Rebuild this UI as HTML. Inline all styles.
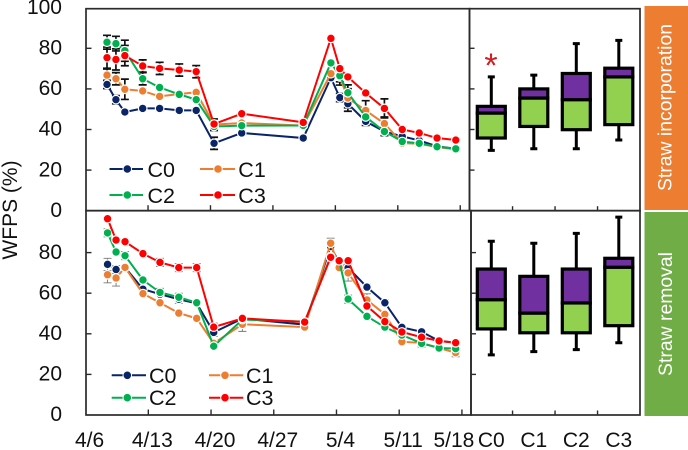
<!DOCTYPE html>
<html>
<head>
<meta charset="utf-8">
<title>WFPS chart</title>
<style>
html,body{margin:0;padding:0;background:#fff;width:688px;height:450px;overflow:hidden}
svg{display:block;filter:blur(0.3px)}
text{font-family:"Liberation Sans",sans-serif;fill:#111}
</style>
</head>
<body>
<svg id="chart" xmlns="http://www.w3.org/2000/svg" width="688" height="450" viewBox="0 0 688 450">
  <rect x="644.5" y="6" width="43.5" height="204" fill="#ed7d31"/>
  <rect x="644.5" y="212" width="43.5" height="204" fill="#70ad47"/>
  <text transform="translate(671.5,107.5) rotate(-90)" text-anchor="middle" font-size="19.4" style="fill:#fff">Straw incorporation</text>
  <text transform="translate(672,314) rotate(-90)" text-anchor="middle" font-size="19.4" style="fill:#fff">Straw removal</text>
  <text transform="translate(17,210) rotate(-90)" text-anchor="middle" font-size="21">WFPS (%)</text>
  <text x="491" y="77" text-anchor="middle" font-size="34" style="fill:#cc1f24">*</text>
  <g id="layer"></g>
  <g fill="none" stroke="#2b2b2b" stroke-width="1.7">
    <rect x="86" y="8.7" width="383.5" height="202"/>
    <rect x="469.5" y="8.7" width="170.5" height="202"/>
    <rect x="86" y="210.7" width="385" height="204.3"/>
    <rect x="471" y="210.7" width="169" height="204.3"/>
  </g>
</svg>
<script>
var seriesNames = ["C0", "C1", "C2", "C3"];
var seriesColors = ["#0a2468", "#ed7d31", "#00b050", "#ff0000"];
var dateTicks = [0, 7, 14, 21, 28, 35, 42];
var dateLabels = ["4/6", "4/13", "4/20", "4/27", "5/4", "5/11", "5/18"];
var topYTicks = [0, 20, 40, 60, 80, 100];
var bottomYTicks = [0, 20, 40, 60, 80];

var topDays = [2.4, 3.4, 4.4, 6.4, 8.3, 10.5, 12.4, 14.4, 17.5, 24.4, 27.5, 28.5, 29.4, 31.4, 33.5, 35.5, 37.4, 39.4, 41.5];
var topC0 = [62.2, 54.7, 48.6, 50.4, 50.4, 49.4, 49.4, 33.2, 38.3, 35.8, 65.5, 55.7, 52.7, 44, 39, 36.6, 34.6, 31.7, 30.5];
var topC1 = [66.8, 65, 59.8, 59, 56.3, 57.5, 58.3, 42.4, 43.2, 41.9, 67.5, 65.9, 55.5, 49.4, 42.9, 33.3, 33, 31.4, 30.2];
var topC2 = [83, 82.3, 78.8, 65, 60.7, 57.3, 54.7, 41.5, 41.9, 42, 72.8, 66.5, 58.1, 46.2, 39, 34.1, 33.2, 31.5, 30.5];
var topC3 = [75.4, 74.5, 76.4, 71.3, 70.1, 69.3, 68.5, 42.7, 47.8, 43.5, 84.9, 70, 65.9, 58, 50.4, 40, 38.3, 35.8, 34.8];
var topErrC0 = [2, 2, 1, 1, 1, 1, 1, 3, 1, 1, 1, 2, 2, 2, 2, 1, 1, 1, 1];
var topErrC1 = [3, 3, 5, 1, 1, 1, 1, 1, 1, 1, 1, 4, 6.5, 4.8, 3.3, 1, 1, 1, 1];
var topErrC2 = [3.4, 3.6, 5.2, 3, 1, 1, 1, 2, 1, 1, 1, 3, 2, 1, 1, 1, 1, 1, 1];
var topErrC3 = [5.2, 5.2, 5, 3, 3, 3, 3, 2.5, 1, 1, 1, 1, 1, 1, 4.7, 1, 1, 1, 1];

var bottomDays = [2.45, 3.4, 4.4, 6.4, 8.3, 10.4, 12.4, 14.3, 17.5, 24.45, 27.35, 28.3, 29.3, 31.4, 33.4, 35.3, 37.5, 39.45, 41.3];
var bottomC0 = [74.2, 71.7, 72.7, 62, 59.5, 57, 55, 40.7, 47.5, 44.5, 83, 75, 72.5, 63, 55.3, 43.2, 41, 36.5, 35.6];
var bottomC1 = [69.1, 67.5, 72.7, 59.8, 55.3, 50.2, 47.6, 35.3, 44.7, 43.3, 84.6, 72.6, 70, 56.7, 49.6, 36.1, 35.5, 33, 30.7];
var bottomC2 = [89.7, 80.3, 78.5, 66.5, 60.4, 58, 55.3, 33.9, 47, 46, 78, 76, 57.1, 48.6, 43.3, 39.4, 35.3, 33, 32.7];
var bottomC3 = [96.7, 86.2, 85.4, 79.5, 75.2, 72.6, 72.6, 43.3, 47.6, 45.8, 77.7, 76, 76, 53.7, 46, 40.9, 38.3, 36.5, 35.6];
var bottomErrC0 = [3, 2, 1, 1, 1, 2, 1, 2, 1, 1, 1, 1, 2, 1.5, 1.5, 1, 1, 1, 1];
var bottomErrC1 = [4, 4, 1, 1, 1, 1, 1, 1, 3.5, 1, 2.5, 1, 4, 3, 1, 1, 2, 1, 2];
var bottomErrC2 = [2, 1, 2, 1, 2, 2, 1, 1, 1, 1, 1, 1, 2, 1, 1, 1, 1, 1, 1];
var bottomErrC3 = [1, 1, 1, 1, 2, 2, 2, 2, 1, 1, 1, 1, 1, 1, 1, 1, 1, 1, 1];

var boxCategories = ["C0", "C1", "C2", "C3"];
var topBoxLow = [29.7, 30.5, 30.5, 34.8];
var topBoxQ1 = [35.8, 41.5, 39.9, 42.4];
var topBoxMedian = [48.1, 55.5, 54.7, 65.9];
var topBoxQ3 = [51.4, 60, 67.6, 70.2];
var topBoxHigh = [65.9, 66.8, 82.3, 83.9];
var bottomBoxLow = [29.6, 31.2, 32.2, 35.6];
var bottomBoxQ1 = [42.4, 40.5, 40.5, 44];
var bottomBoxMedian = [56.8, 50.2, 55.2, 72.8];
var bottomBoxQ3 = [71.9, 68.3, 71.9, 77.2];
var bottomBoxHigh = [85.6, 84.6, 89.5, 97.5];

var layer = document.getElementById('layer');
var NS = 'http://www.w3.org/2000/svg';
function mk(tag, attrs, parent) {
  var el = document.createElementNS(NS, tag);
  for (var k in attrs) el.setAttribute(k, attrs[k]);
  (parent || layer).appendChild(el);
  return el;
}
function topY(v) { return 210.7 - v * 2.03; }
function bottomY(v) { return 415 - v * 2.03; }
function topX(d) { return 85.6 + d * 8.92; }
function bottomX(d) { return 85.6 + d * 8.96; }
function boxX(i) { return 491.3 + i * 42.5; }

function drawLinePanel(prefix, xf, yf, days, values, errs, errColor, errWidth) {
  values.forEach(function (vals, s) {
    vals.forEach(function (v, i) {
      var x = xf(days[i]);
      var e = errs[s][i];
      var bar = mk('path', {
        d: 'M' + x + ' ' + yf(v - e) + 'V' + yf(v + e) +
           'M' + (x - 4) + ' ' + yf(v - e) + 'h8M' + (x - 4) + ' ' + yf(v + e) + 'h8',
        fill: 'none', stroke: errColor, 'stroke-width': errWidth
      });
      
      
    });
  });
  values.forEach(function (vals, s) {
    var pts = vals.map(function (v, i) { return xf(days[i]) + ',' + yf(v); }).join(' ');
    var line = mk('polyline', { points: pts, fill: 'none', stroke: seriesColors[s], 'stroke-width': 2 });
    
    
    vals.forEach(function (v, i) {
      var dot = mk('circle', { cx: xf(days[i]), cy: yf(v), r: 4.3, fill: seriesColors[s], stroke: '#fff', 'stroke-width': 1.2 });
      
      
    });
  });
}

function drawBoxes(prefix, yf, low, q1, med, q3, high) {
  boxCategories.forEach(function (c, i) {
    var x = boxX(i), w = 28, l = x - w / 2;
    var whisker = mk('path', {
      d: 'M' + x + ' ' + yf(low[i]) + 'V' + yf(high[i]) +
         'M' + (x - 3.5) + ' ' + yf(low[i]) + 'h7M' + (x - 3.5) + ' ' + yf(high[i]) + 'h7',
      fill: 'none', stroke: '#000', 'stroke-width': 3
    });
    
    
    var lower = mk('rect', { x: l, y: yf(med[i]), width: w, height: yf(q1[i]) - yf(med[i]), fill: '#92d050', stroke: '#000', 'stroke-width': 3.2 });
    
    
    var upper = mk('rect', { x: l, y: yf(q3[i]), width: w, height: yf(med[i]) - yf(q3[i]), fill: '#7030a0', stroke: '#000', 'stroke-width': 3.2 });
    
    
  });
}

function drawAxes(prefix, xf, yf, yTicks, baseY, boxLeft) {
  dateTicks.forEach(function (d) {
    if (d === 0) return;
    var t = mk('line', { x1: xf(d), x2: xf(d), y1: baseY, y2: baseY - 5.5, stroke: '#2b2b2b', 'stroke-width': 1.4 });
    
    
  });
  yTicks.forEach(function (v) {
    var lab = mk('text', { x: 62, y: yf(v) + 6.2, 'text-anchor': 'end', 'font-size': 21 });
    lab.textContent = String(v);
    
    
    if (v === 0 || v === 100) return;
    var t = mk('line', { x1: 86, x2: 91.5, y1: yf(v), y2: yf(v), stroke: '#2b2b2b', 'stroke-width': 1.4 });
    
    
    var t2 = mk('line', { x1: boxLeft, x2: boxLeft + 5, y1: yf(v), y2: yf(v), stroke: '#2b2b2b', 'stroke-width': 1.4 });
    
    
  });
  [0.5, 1.5, 2.5].forEach(function (p) {
    var t = mk('line', { x1: boxX(p), x2: boxX(p), y1: baseY, y2: baseY - 4.5, stroke: '#2b2b2b', 'stroke-width': 1.4 });
    
    
  });
}

function drawLegendEntry(prefix, s, x1, x2, cx, y, tx, ty) {
  var l = mk('line', { x1: x1, x2: x2, y1: y, y2: y, stroke: seriesColors[s], 'stroke-width': 2 });
  
  
  var c = mk('circle', { cx: cx, cy: y, r: 4.3, fill: seriesColors[s], stroke: '#fff', 'stroke-width': 1 });
  
  
  var t = mk('text', { x: tx, y: ty, 'font-size': 21.5 });
  t.textContent = seriesNames[s];
  
  
}

drawLinePanel('top', topX, topY, topDays, [topC0, topC1, topC2, topC3], [topErrC0, topErrC1, topErrC2, topErrC3], '#111', 1.7);
drawLinePanel('bottom', bottomX, bottomY, bottomDays, [bottomC0, bottomC1, bottomC2, bottomC3], [bottomErrC0, bottomErrC1, bottomErrC2, bottomErrC3], '#777', 0.9);
drawBoxes('top', topY, topBoxLow, topBoxQ1, topBoxMedian, topBoxQ3, topBoxHigh);
drawBoxes('bottom', bottomY, bottomBoxLow, bottomBoxQ1, bottomBoxMedian, bottomBoxQ3, bottomBoxHigh);
drawAxes('top', topX, topY, topYTicks, 210.7, 469.5);
drawAxes('bottom', bottomX, bottomY, bottomYTicks, 415, 471);

dateTicks.forEach(function (d, i) {
  var cx = bottomX(d) + (d === 42 ? -8 : 4);
  var t = mk('text', { x: cx, y: 447, 'text-anchor': 'middle', 'font-size': 21 });
  t.textContent = dateLabels[i];
  
  
});
boxCategories.forEach(function (c, i) {
  var t = mk('text', { x: boxX(i), y: 447, 'text-anchor': 'middle', 'font-size': 21 });
  t.textContent = c;
  
  
});

drawLegendEntry('top', 0, 109.5, 143, 127.3, 169, 147.5, 176.8);
drawLegendEntry('top', 1, 200, 235, 218, 169, 238.3, 176.8);
drawLegendEntry('top', 2, 109.5, 143, 127.3, 195, 147.5, 202.8);
drawLegendEntry('top', 3, 200, 235, 218, 195, 238.3, 202.8);
drawLegendEntry('bottom', 0, 111.7, 146, 127.3, 375.3, 149, 383.2);
drawLegendEntry('bottom', 1, 209, 243.3, 225, 375.3, 246, 383.2);
drawLegendEntry('bottom', 2, 111.7, 146, 127.3, 397.7, 149, 405.2);
drawLegendEntry('bottom', 3, 209, 243.3, 225, 397.7, 246, 405.2);
</script>
</body>
</html>
